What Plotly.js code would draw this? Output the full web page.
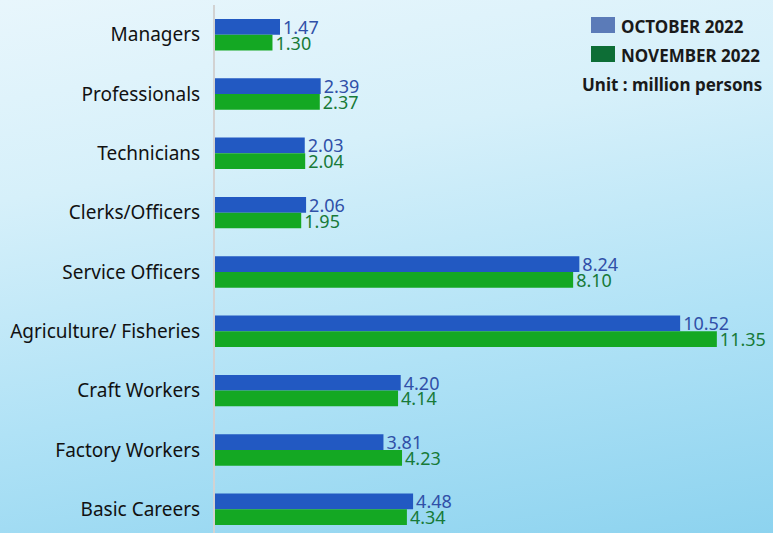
<!DOCTYPE html>
<html><head><meta charset="utf-8">
<script src="https://cdn.plot.ly/plotly-3.0.1.min.js"></script>
<style>
html,body{margin:0;padding:0;}
body{width:773px;height:533px;overflow:hidden;background:linear-gradient(170deg,#e8f6fc 0%,#d6f0fa 30%,#b0e2f6 65%,#8dd3ef 100%);}
#chart{width:773px;height:533px;}
</style></head>
<body><div id="chart"></div>
<script>
const categories = ["Managers","Professionals","Technicians","Clerks/Officers","Service Officers","Agriculture/ Fisheries","Craft Workers","Factory Workers","Basic Careers"];
const october2022 = [1.47,2.39,2.03,2.06,8.24,10.52,4.20,3.81,4.48];
const november2022 = [1.30,2.37,2.04,1.95,8.10,11.35,4.14,4.23,4.34];
const seriesNames = ["OCTOBER 2022","NOVEMBER 2022"];
const unitText = "Unit : million persons";

const font = "Noto Sans, DejaVu Sans, sans-serif";
const traces = [
  {type:"bar", orientation:"h", name:seriesNames[0], y:categories, x:october2022,
   marker:{color:"#2259c2"}, text:october2022.map(v=>v.toFixed(2)), textposition:"outside",
   constraintext:"none",
   textfont:{family:font,size:18,color:"#3050a8"}, cliponaxis:false, hoverinfo:"x+y"},
  {type:"bar", orientation:"h", name:seriesNames[1], y:categories, x:november2022,
   marker:{color:"#14a823"}, text:november2022.map(v=>v.toFixed(2)), textposition:"outside",
   constraintext:"none",
   textfont:{family:font,size:18,color:"#177a38"}, cliponaxis:false, hoverinfo:"x+y"}
];
const layout = {
  width:773, height:533,
  margin:{l:215,r:0,t:5,b:0},
  paper_bgcolor:"rgba(0,0,0,0)", plot_bgcolor:"rgba(0,0,0,0)",
  barmode:"group", bargap:0.47, bargroupgap:0,
  showlegend:false,
  font:{family:font},
  xaxis:{range:[0,12.62], visible:false, fixedrange:true},
  yaxis:{type:"category", range:[8.4,-0.5], showline:true, linecolor:"#d2d2d2", linewidth:2,
         showgrid:false, zeroline:false, ticks:"outside", ticklen:9, tickcolor:"rgba(0,0,0,0)",
         tickfont:{family:font,size:19,color:"#111111"}},
  shapes:[
    {type:"rect", xref:"paper", yref:"paper", x0:(591-215)/558, x1:(615-215)/558, y0:1-(33-5)/528, y1:1-(17-5)/528, fillcolor:"#5b7bb8", line:{width:0}},
    {type:"rect", xref:"paper", yref:"paper", x0:(591-215)/558, x1:(615-215)/558, y0:1-(62-5)/528, y1:1-(46-5)/528, fillcolor:"#0d6e36", line:{width:0}}
  ],
  annotations:[
    {xref:"paper", yref:"paper", x:(619-215)/558, y:1-(26-5)/528, xanchor:"left", yanchor:"middle", showarrow:false,
     text:"<b>"+seriesNames[0]+"</b>", font:{family:font,size:17,color:"#1a1a1a"}},
    {xref:"paper", yref:"paper", x:(619-215)/558, y:1-(55-5)/528, xanchor:"left", yanchor:"middle", showarrow:false,
     text:"<b>"+seriesNames[1]+"</b>", font:{family:font,size:17,color:"#1a1a1a"}},
    {xref:"paper", yref:"paper", x:(764-215)/558, y:1-(84-5)/528, xanchor:"right", yanchor:"middle", showarrow:false,
     text:"<b>"+unitText+"</b>", font:{family:font,size:17,color:"#1a1a1a"}}
  ]
};
Plotly.newPlot("chart", traces, layout, {displayModeBar:false, staticPlot:true});
</script>
</body></html>
